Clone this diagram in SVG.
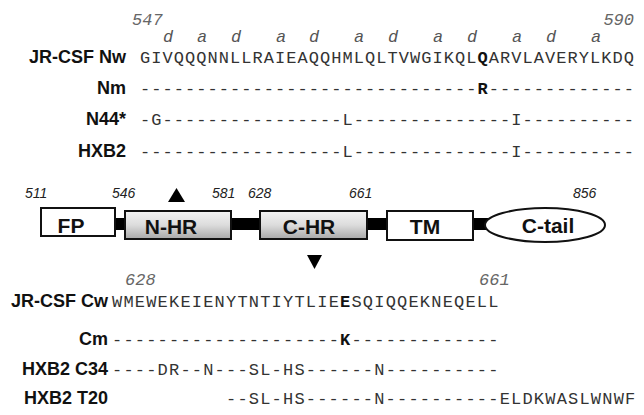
<svg xmlns="http://www.w3.org/2000/svg" width="644" height="415" viewBox="0 0 644 415">
<style>
.lbl{font-family:"Liberation Sans",Arial,sans-serif;font-weight:bold;font-size:18px;fill:#111;text-anchor:end}
.seqT{font-family:"Liberation Mono","Courier New",monospace;font-size:17px;fill:#333;letter-spacing:1.05px}
.seqB{font-family:"Liberation Mono","Courier New",monospace;font-size:17px;fill:#333;letter-spacing:1.2px}
.num{font-family:"Liberation Mono","Courier New",monospace;font-size:17px;font-style:italic;fill:#666}
.hep{font-family:"Liberation Mono","Courier New",monospace;font-size:17px;font-style:italic;fill:#555;text-anchor:middle}
.b{font-weight:bold;fill:#111}
.pos{font-family:"Liberation Sans",Arial,sans-serif;font-style:italic;font-size:14px;fill:#222}
.box{stroke:#111;stroke-width:2}
.btxt{font-family:"Liberation Sans",Arial,sans-serif;font-weight:bold;font-size:21px;fill:#111;text-anchor:middle}
</style>
<defs>
<linearGradient id="hr" x1="0" y1="0" x2="0" y2="1">
<stop offset="0" stop-color="#f4f4f4"/>
<stop offset="0.5" stop-color="#dcdcdc"/>
<stop offset="1" stop-color="#a8a8a8"/>
</linearGradient>
</defs>

<g id="top-alignment">
<text class="num" x="132" y="25">547</text>
<text class="num" x="634" y="25" text-anchor="end">590</text>
<g id="heptad">
<text class="hep" x="168" y="42">d</text>
<text class="hep" x="202" y="42">a</text>
<text class="hep" x="236" y="42">d</text>
<text class="hep" x="281" y="42">a</text>
<text class="hep" x="314" y="42">d</text>
<text class="hep" x="359" y="42">a</text>
<text class="hep" x="393" y="42">d</text>
<text class="hep" x="438" y="42">a</text>
<text class="hep" x="472" y="42">d</text>
<text class="hep" x="517" y="42">a</text>
<text class="hep" x="551" y="42">d</text>
<text class="hep" x="596" y="42">a</text>
</g>
<g id="row-nw">
<text class="lbl" x="126" y="63">JR-CSF Nw</text>
<text class="seqT" x="140" y="63">GIVQQQNNLLRAIEAQQHMLQLTVWGIKQL<tspan class="b">Q</tspan>ARVLAVERYLKDQ</text>
</g>
<g id="row-nm">
<text class="lbl" x="126" y="94">Nm</text>
<text class="seqT" x="140" y="94">------------------------------<tspan class="b">R</tspan>-------------</text>
</g>
<g id="row-n44">
<text class="lbl" x="126" y="125">N44*</text>
<text class="seqT" x="140" y="125">-G----------------L--------------I----------</text>
</g>
<g id="row-hxb2">
<text class="lbl" x="126" y="157">HXB2</text>
<text class="seqT" x="140" y="157">------------------L--------------I----------</text>
</g>
</g>

<g id="connectors">
<rect x="114" y="218" width="12" height="12" fill="#000"/>
<rect x="230" y="218" width="31" height="12" fill="#000"/>
<rect x="366" y="218" width="22" height="12" fill="#000"/>
<rect x="473" y="218" width="16" height="12" fill="#000"/>
</g>

<g id="domain-positions">
<text class="pos" x="25" y="198">511</text>
<text class="pos" x="112" y="198">546</text>
<text class="pos" x="212" y="198">581</text>
<text class="pos" x="248" y="198">628</text>
<text class="pos" x="349" y="198">661</text>
<text class="pos" x="573" y="198">856</text>
</g>

<g id="node-FP">
<rect class="box" x="41" y="208" width="74" height="28" fill="#fff"/>
<text class="btxt" x="71" y="233">FP</text>
</g>
<g id="node-NHR">
<rect class="box" x="125" y="211" width="106" height="28" fill="url(#hr)"/>
<text class="btxt" x="171" y="234">N-HR</text>
</g>
<g id="node-CHR">
<rect class="box" x="260" y="211" width="107" height="28" fill="url(#hr)"/>
<text class="btxt" x="309" y="234">C-HR</text>
</g>
<g id="node-TM">
<rect class="box" x="387" y="211" width="86" height="29" fill="#fff"/>
<text class="btxt" x="425" y="234">TM</text>
</g>
<g id="node-Ctail">
<ellipse class="box" cx="545" cy="225" rx="60" ry="17" fill="#fff"/>
<text class="btxt" x="548" y="233">C-tail</text>
</g>

<g id="arrows">
<polygon points="168,202 185,202 176.5,188" fill="#000"/>
<polygon points="307,255 322,255 314.5,269" fill="#000"/>
</g>

<g id="bottom-alignment">
<text class="num" x="125" y="285">628</text>
<text class="num" x="479" y="285">661</text>
<g id="row-cw">
<text class="lbl" x="108" y="307">JR-CSF Cw</text>
<text class="seqB" x="112" y="307">WMEWEKEIENYTNTIYTLIE<tspan class="b">E</tspan>SQIQQEKNEQELL</text>
</g>
<g id="row-cm">
<text class="lbl" x="108" y="345">Cm</text>
<text class="seqB" x="112" y="345">--------------------<tspan class="b">K</tspan>-------------</text>
</g>
<g id="row-c34">
<text class="lbl" x="108" y="375">HXB2 C34</text>
<text class="seqB" x="112" y="375">----DR--N---SL-HS------N----------</text>
</g>
<g id="row-t20">
<text class="lbl" x="108" y="404">HXB2 T20</text>
<text class="seqB" x="226" y="404">--SL-HS------N----------ELDKWASLWNWF</text>
</g>
</g>
</svg>
